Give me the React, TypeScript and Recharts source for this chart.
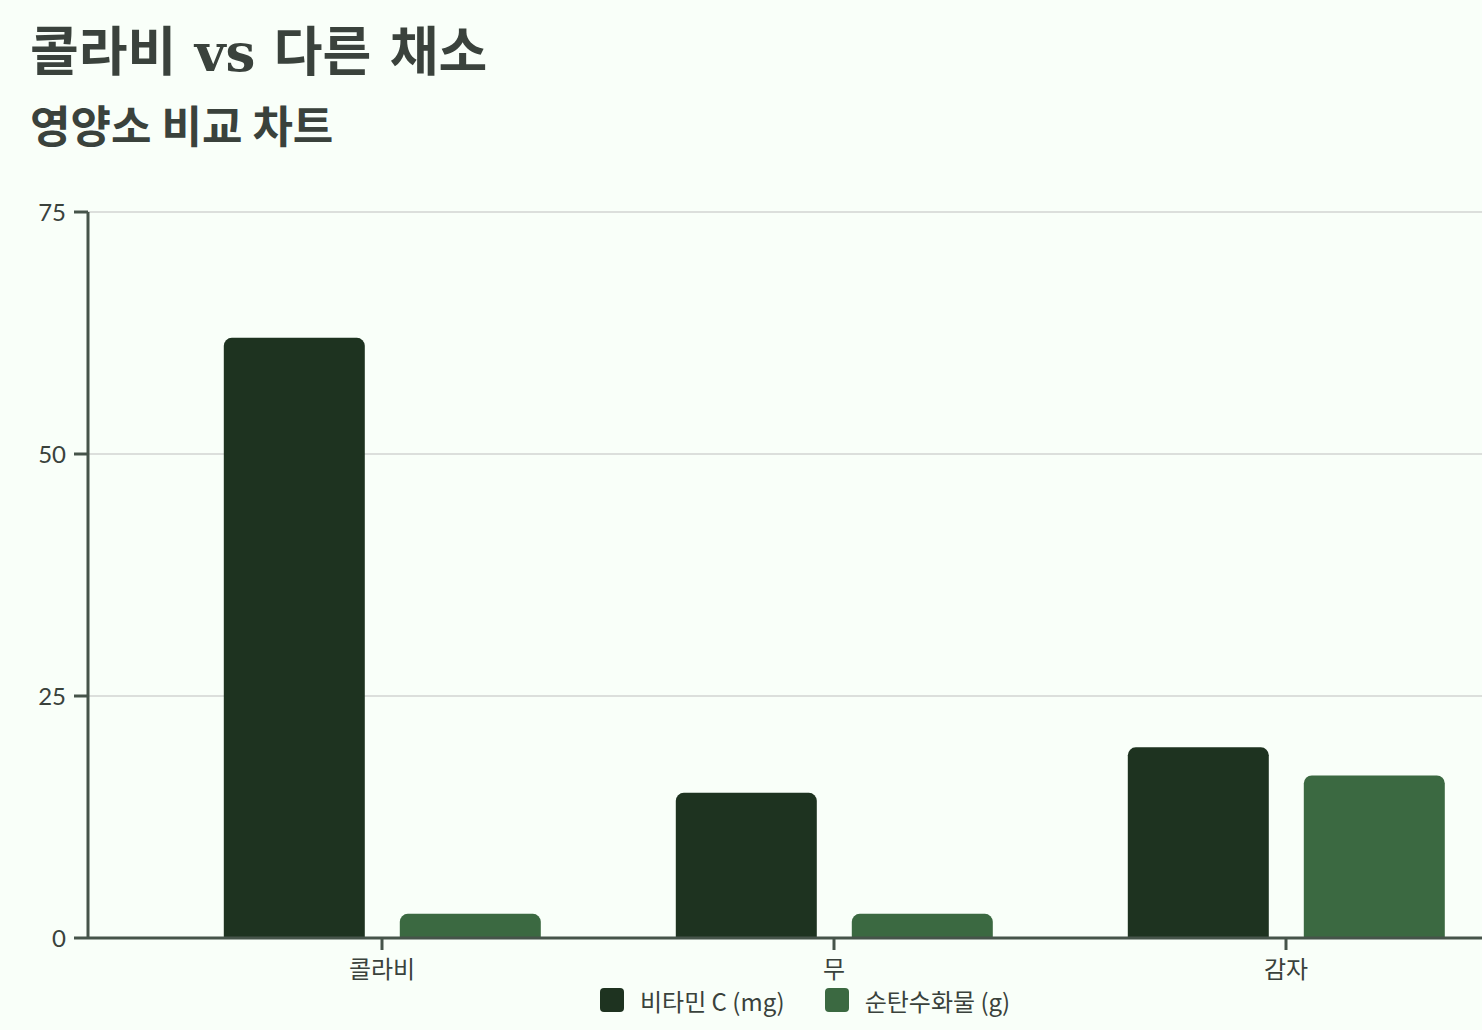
import { Bar, BarChart, CartesianGrid, Legend, XAxis, YAxis } from "recharts";

const vegetables = ["콜라비", "무", "감자"];
const vitaminC = [62, 15, 19.7];
const carbs = [2.5, 2.5, 16.8];
const yTicks = [0, 25, 50, 75];

const data = vegetables.map((name, i) => ({ name, vitaminC: vitaminC[i], carbs: carbs[i] }));

const ink = "#3a423c";
const axisColor = "#46544a";

function LegendContent(props: any) {
  const items = props.payload || [];
  return (
    <div style={{ display: "flex", gap: 40, alignItems: "center", height: 36 }}>
      {items.map((p: any) => (
        <div key={p.value} style={{ display: "flex", alignItems: "center", gap: 16 }}>
          <span style={{ width: 24, height: 24, borderRadius: 4, background: p.color, display: "inline-block" }} />
          <span style={{ fontSize: 24, color: ink, fontFamily: "'Noto Sans CJK KR', sans-serif" }}>{p.value}</span>
        </div>
      ))}
    </div>
  );
}

export default function App() {
  return (
    <div style={{ position: "fixed", left: 0, top: 0, width: 1482, height: 1030, background: "#f9fff9", overflow: "hidden" }}>
      <div style={{ position: "absolute", left: 30, top: 10, fontFamily: "'DejaVu Serif', 'Noto Sans CJK KR', serif", fontWeight: 700, fontSize: 53, color: ink, whiteSpace: "nowrap" }}>
        콜라비 vs 다른 채소
      </div>
      <div style={{ position: "absolute", left: 30, top: 92, fontFamily: "'Noto Sans CJK KR', sans-serif", fontWeight: 700, fontSize: 44, color: ink, whiteSpace: "nowrap" }}>
        영양소 비교 차트
      </div>
      <div style={{ position: "absolute", left: 0, top: 180 }}>
        <BarChart width={1520} height={850} data={data} margin={{ top: 32, right: 8, left: 0, bottom: 12 }} barGap={35} barCategoryGap="15%">
          <CartesianGrid vertical={false} stroke="#dcdfdc" strokeWidth={2} />
          <XAxis
            dataKey="name"
            padding={{ left: 68, right: 0 }}
            height={44}
            tickSize={12}
            tickMargin={11}
            stroke={axisColor}
            strokeWidth={3}
            tick={{ fill: ink, fontSize: 24, fontFamily: "'Noto Sans CJK KR', sans-serif" }}
          />
          <YAxis
            width={88}
            domain={[0, 75]}
            ticks={yTicks}
            tickSize={14}
            tickMargin={8}
            stroke={axisColor}
            strokeWidth={3}
            tick={{ fill: ink, fontSize: 24, fontFamily: "Lato, sans-serif" }}
          />
          <Legend verticalAlign="bottom" content={<LegendContent />} wrapperStyle={{ left: 600, width: "auto", height: 36 }} />
          <Bar dataKey="vitaminC" name="비타민 C (mg)" fill="#1e3320" radius={[8, 8, 0, 0]} isAnimationActive={false} />
          <Bar dataKey="carbs" name="순탄수화물 (g)" fill="#3b6941" radius={[8, 8, 0, 0]} isAnimationActive={false} />
        </BarChart>
      </div>
    </div>
  );
}
